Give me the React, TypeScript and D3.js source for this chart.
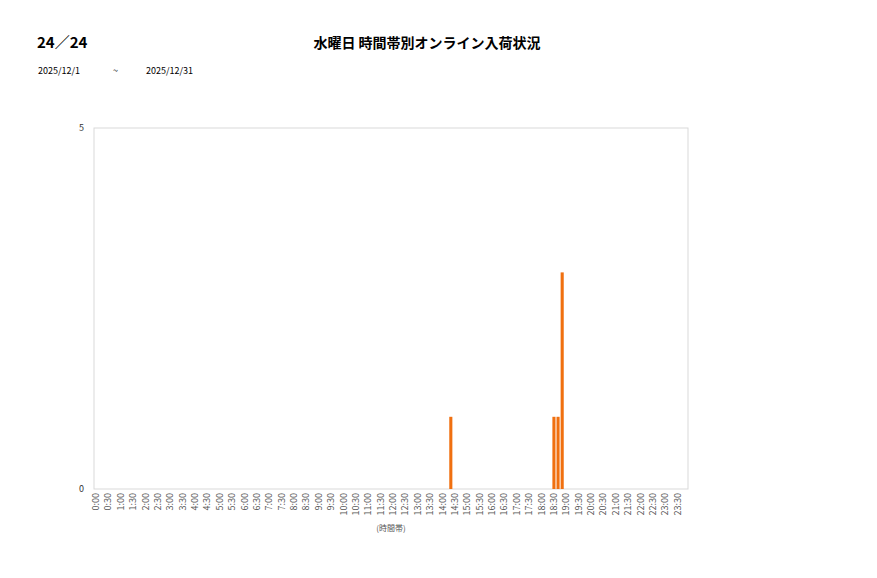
import React from "react";
import * as d3 from "d3";

const pageTitle = "24／24";
const chartTitle = "水曜日 時間帯別オンライン入荷状況";
const dateFrom = "2025/12/1";
const dateSep = "~";
const dateTo = "2025/12/31";
const xAxisTitle = "(時間帯)";

// 10-minute slots through the day
const slots: string[] = [];
for (let h = 0; h < 24; h++) for (let m = 0; m < 60; m += 10) slots.push(`${h}:${m === 0 ? "00" : m}`);
const tickLabels = slots.filter((s) => s.endsWith(":00") || s.endsWith(":30"));

const barSlots = ["14:20", "18:30", "18:40", "18:50"];
const barValues = [1, 1, 1, 3];
const yTicks = [0, 5];

const FONT = "'Noto Sans CJK JP', 'Noto Sans', sans-serif";

export default function App() {
  const W = 877, H = 578;
  const left = 94, right = 688, top = 128, bottom = 489;
  const x = d3.scaleBand<string>().domain(slots).range([left, right]).paddingInner(0.25).paddingOuter(0.125);
  const y = d3.scaleLinear().domain([0, 5]).range([bottom, top]);
  const step = x.step();
  return (
    <svg width={W} height={H} style={{ position: "absolute", left: 0, top: 0, fontFamily: FONT }}>
      <rect x={0} y={0} width={W} height={H} fill="#fff" />
      <text x={37} y={48} fontSize={15} fontWeight="bold" fill="#000">{pageTitle}</text>
      <text x={427} y={48} fontSize={14} fontWeight="bold" fill="#000" textAnchor="middle">{chartTitle}</text>
      <text x={38} y={74} fontSize={9} fill="#000">{dateFrom}</text>
      <text x={113} y={74} fontSize={9} fill="#000">{dateSep}</text>
      <text x={146} y={74} fontSize={9} fill="#000">{dateTo}</text>
      <rect x={left} y={top} width={right - left} height={bottom - top} fill="none" stroke="#d9d9d9" strokeWidth={1} />
      {yTicks.map((t) => (
        <text key={t} x={84} y={y(t) + 3} fontSize={9} fill="#333" textAnchor="end">{t}</text>
      ))}
      {barSlots.map((s, i) => (
        <rect key={s} x={x(s)!} y={y(barValues[i])} width={x.bandwidth()} height={y(0) - y(barValues[i])} fill="#f07010" />
      ))}
      {tickLabels.map((s) => {
        const cx = x(s)! + x.bandwidth() / 2;
        return (
          <text key={s} transform={`translate(${cx + 3},${bottom + 4}) rotate(-90)`} fontSize={9} fill="#555" textAnchor="end">{s}</text>
        );
      })}
      <text x={391} y={531} fontSize={8} fill="#555" textAnchor="middle">{xAxisTitle}</text>
    </svg>
  );
}
